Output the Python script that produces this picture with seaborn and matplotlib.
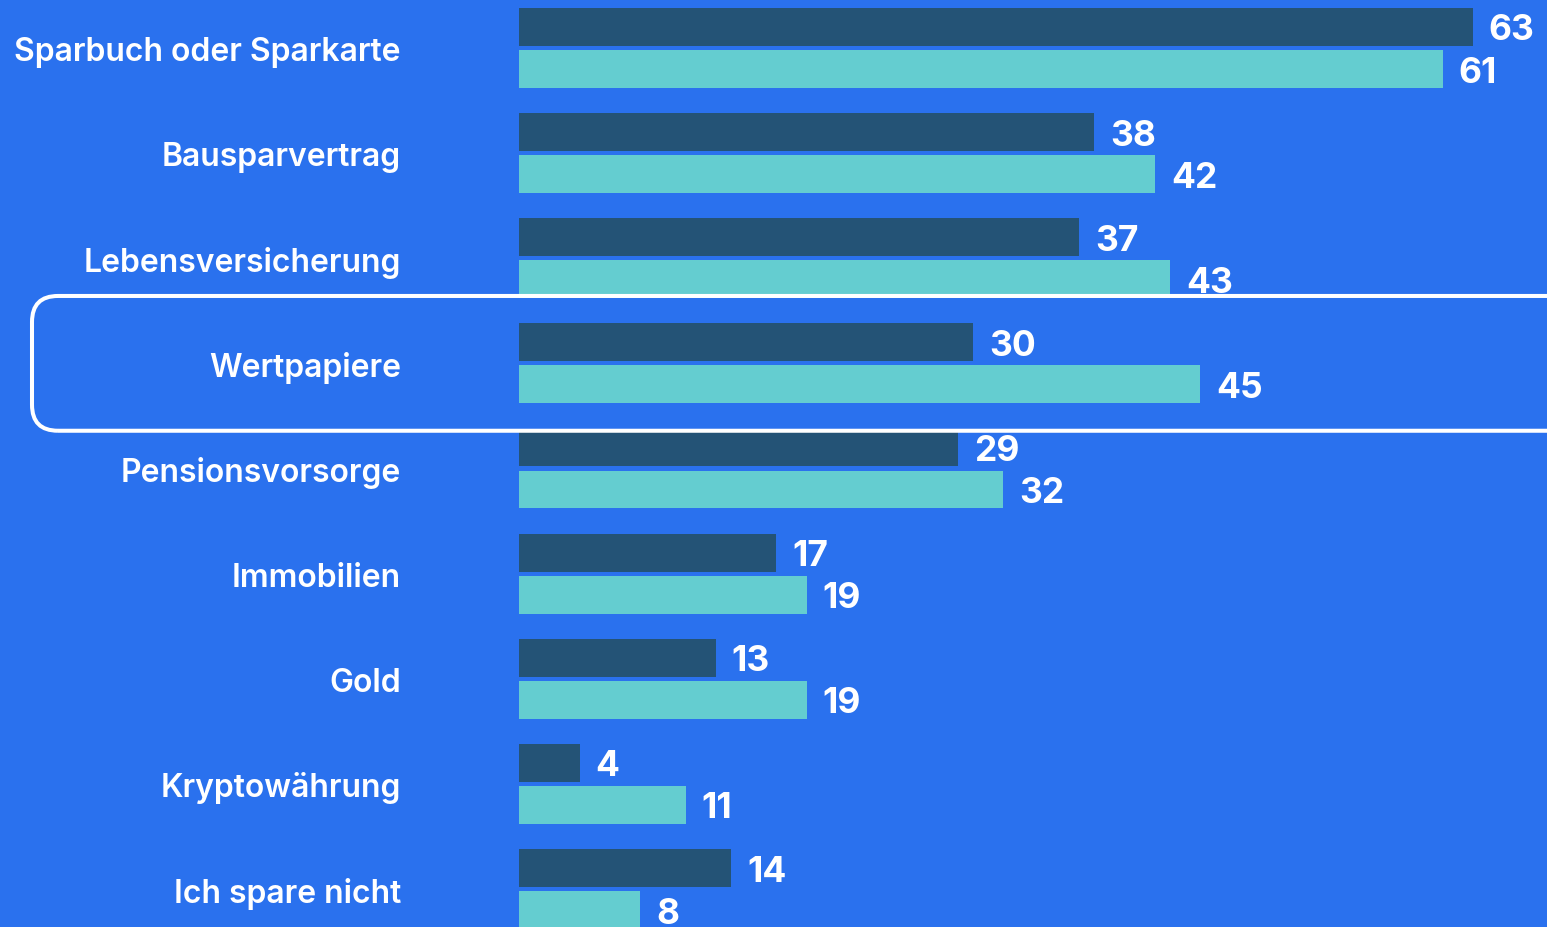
import matplotlib
matplotlib.use("Agg")
import matplotlib.pyplot as plt
from matplotlib.patches import FancyBboxPatch
from matplotlib.transforms import IdentityTransform
import seaborn as sns
import pandas as pd

categories = ["Sparbuch oder Sparkarte", "Bausparvertrag", "Lebensversicherung",
              "Wertpapiere", "Pensionsvorsorge", "Immobilien", "Gold",
              "Kryptowährung", "Ich spare nicht"]
series_names = ["Vorjahr", "Aktuell"]
values_prev = [63, 38, 37, 30, 29, 17, 13, 4, 14]
values_curr = [61, 42, 43, 45, 32, 19, 19, 11, 8]
highlight = "Wertpapiere"

BG = "#2A71EE"
DARK = "#245376"
LIGHT = "#64CDD0"

df = pd.DataFrame({
    "Kategorie": categories * 2,
    "Serie": [series_names[0]] * len(categories) + [series_names[1]] * len(categories),
    "Wert": values_prev + values_curr,
})

sns.set_theme(style="white")
plt.rcParams["font.family"] = ["Inter", "DejaVu Sans"]

W, H = 1547, 928
X0 = 519
fig = plt.figure(figsize=(W / 100, H / 100), dpi=100, facecolor=BG)
ax = fig.add_axes([X0 / W, 0, 1 - X0 / W, 1])
ax.set_facecolor(BG)

sns.barplot(data=df, y="Kategorie", x="Wert", hue="Serie", order=categories,
            hue_order=series_names, palette=[DARK, LIGHT], orient="h",
            width=0.8, gap=0.1, legend=False, ax=ax, saturation=1,
            linewidth=0)

pxu = 15.14
ax.set_xlim(0, (W - X0) / pxu)
ypx = 105.25
ax.set_ylim(8 + (H - 890) / ypx, -49 / ypx)

for c in ax.containers:
    anns = ax.bar_label(c, padding=11.5, color="white", fontsize=25.5,
                        fontweight="bold", fontfamily=["Inter", "DejaVu Sans"])
    for a in anns:
        a.xyann = (11.5, -2.2)

ax.set_xlabel("")
ax.set_ylabel("")
ax.set_xticks([])
ax.tick_params(axis="y", length=0, pad=85)
for lab in ax.get_yticklabels():
    lab.set_color("white")
    lab.set_fontsize(23)
    lab.set_fontweight("semibold")
for s in ax.spines.values():
    s.set_visible(False)

# highlight box around one category
fig.canvas.draw()
idx = categories.index(highlight)
x0d = 32
_, y0d = ax.transData.transform((0, idx + 0.641))
x1d, y1d = ax.transData.transform((80, idx - 0.641))
box = FancyBboxPatch((x0d, y0d), x1d - x0d, y1d - y0d,
                     boxstyle="round,pad=0,rounding_size=26",
                     transform=IdentityTransform(), fill=False,
                     edgecolor="white", linewidth=2.9, clip_on=False)
fig.patches.append(box)

fig.savefig("out.png", dpi=100, facecolor=BG)
